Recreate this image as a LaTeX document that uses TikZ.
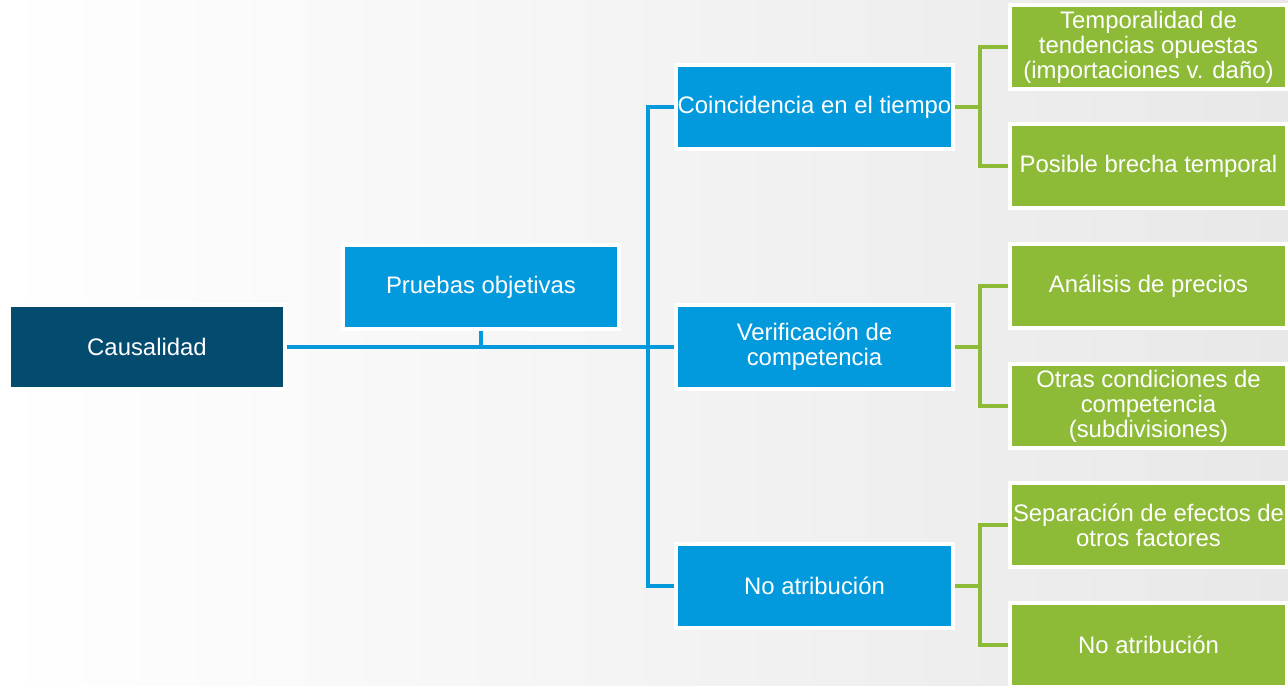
\documentclass[tikz,border=0pt]{standalone}
\usepackage{fontspec}
\setmainfont{Liberation Sans}
\usepackage{tikz}

\definecolor{darkblue}{HTML}{034C6F}
\definecolor{midblue}{HTML}{0399DD}
\definecolor{leafgreen}{HTML}{8DBA37}
\definecolor{bggray}{HTML}{E8E8E8}

\tikzset{
  box/.style={rectangle,draw=white,line width=0.08cm,minimum width=5.54cm,
    minimum height=1.68cm,inner xsep=0pt,align=center,text=white,
    font=\fontsize{13.6}{14.2}\selectfont},
  rootbox/.style={box,fill=darkblue},
  bluebox/.style={box,fill=midblue},
  greenbox/.style={box,fill=leafgreen},
  bluelink/.style={draw=midblue,line width=0.08cm},
  greenlink/.style={draw=leafgreen,line width=0.08cm}
}

\begin{document}
\begin{tikzpicture}[x=0.02cm,y=-0.02cm]
	\shade[left color=white,right color=bggray] (0,0) rectangle (1288,686);
	\useasboundingbox (0,0) rectangle (1288,686);
	%
	\node[rootbox] (caus) at (147,347) {Causalidad};
	\node[bluebox] (prueb) at (481,287) {Pruebas objetivas};
	%
	\node[bluebox] (coinc) at (814.5,107) {Coincidencia en el tiempo};
	\node[bluebox] (verif) at (814.5,347) {Verificación de\\competencia};
	\node[bluebox] (noatr) at (814.5,586) {No atribución};
	%
	\node[greenbox] (tempo) at (1148.5,47) {Temporalidad de\\tendencias opuestas\\(importaciones v. daño)};
	\node[greenbox] (brecha) at (1148.5,166) {Posible brecha temporal};
	\node[greenbox] (precios) at (1148.5,286) {Análisis de precios};
	\node[greenbox] (otras) at (1148.5,406) {Otras condiciones de\\competencia\\(subdivisiones)};
	\node[greenbox] (separ) at (1148.5,525) {Separación de efectos de\\otros factores};
	\node[greenbox] (noatr2) at (1148.5,645) {No atribución};
	%
	\draw[bluelink] (caus.east) -- (verif.west);
	\draw[bluelink] (prueb.south) -- (prueb.south |- caus.east);
	\draw[bluelink] (coinc.west) -- ++(-26,0) coordinate (trunk) |- (noatr.west);
	%
	\draw[greenlink] (coinc.east) -- ++(25,0);
	\draw[greenlink] (tempo.west) -- ++(-28,0) |- (brecha.west);
	\draw[greenlink] (verif.east) -- ++(25,0);
	\draw[greenlink] (precios.west) -- ++(-28,0) |- (otras.west);
	\draw[greenlink] (noatr.east) -- ++(25,0);
	\draw[greenlink] (separ.west) -- ++(-28,0) |- (noatr2.west);
\end{tikzpicture}
\end{document}
